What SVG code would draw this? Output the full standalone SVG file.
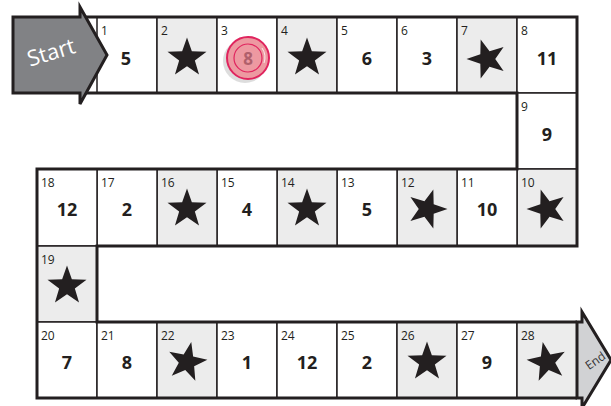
<svg xmlns="http://www.w3.org/2000/svg" width="611" height="406" viewBox="0 0 611 406">
<defs>
<path id="star" d="M0,-20.5 L4.85,-6.67 L19.5,-6.34 L7.85,2.55 L12.05,16.58 L0,8.25 L-12.05,16.58 L-7.85,2.55 L-19.5,-6.34 L-4.85,-6.67 Z" fill="#231f20"/>
</defs>
<style>
.cell{fill:#fff;stroke:#231f20;stroke-width:1.5}
.sh{fill:#ececec}
.lbl{font-family:"Open Sans","Noto Sans",sans-serif;font-size:12px;fill:#231f20}
.val{font-family:"Open Sans","Noto Sans",sans-serif;font-size:18px;font-weight:bold;fill:#231f20;text-anchor:middle}
.edge{fill:none;stroke:#231f20;stroke-width:3;stroke-linejoin:miter}
</style>
<rect width="611" height="406" fill="#fff"/>

<g id="cell1"><rect class="cell" x="97" y="17" width="60" height="76"/><text class="lbl" x="101" y="35">1</text><text class="val" x="126" y="65">5</text></g>
<g id="cell2"><rect class="cell sh" x="157" y="17" width="60" height="76"/><text class="lbl" x="161" y="35">2</text><use href="#star" transform="translate(187,58)"/></g>
<g id="cell3"><rect class="cell" x="217" y="17" width="60" height="76"/><text class="lbl" x="221" y="35">3</text></g>
<g id="cell4"><rect class="cell sh" x="277" y="17" width="60" height="76"/><text class="lbl" x="281" y="35">4</text><use href="#star" transform="translate(307,58)"/></g>
<g id="cell5"><rect class="cell" x="337" y="17" width="60" height="76"/><text class="lbl" x="341" y="35">5</text><text class="val" x="367" y="65">6</text></g>
<g id="cell6"><rect class="cell" x="397" y="17" width="60" height="76"/><text class="lbl" x="401" y="35">6</text><text class="val" x="427" y="65">3</text></g>
<g id="cell7"><rect class="cell sh" x="457" y="17" width="60" height="76"/><text class="lbl" x="461" y="35">7</text><use href="#star" transform="translate(487,59) rotate(-18)"/></g>
<g id="cell8"><rect class="cell" x="517" y="17" width="60" height="76"/><text class="lbl" x="521" y="35">8</text><text class="val" x="547" y="65">11</text></g>
<g id="cell9"><rect class="cell" x="517" y="93" width="60" height="76"/><text class="lbl" x="521" y="111">9</text><text class="val" x="547" y="141">9</text></g>

<g id="cell10"><rect class="cell sh" x="517" y="169" width="60" height="77"/><text class="lbl" x="521" y="187">10</text><use href="#star" transform="translate(547,209) rotate(-18)"/></g>
<g id="cell11"><rect class="cell" x="457" y="169" width="60" height="77"/><text class="lbl" x="461" y="187">11</text><text class="val" x="487" y="216">10</text></g>
<g id="cell12"><rect class="cell sh" x="397" y="169" width="60" height="77"/><text class="lbl" x="401" y="187">12</text><use href="#star" transform="translate(427,209) rotate(18)"/></g>
<g id="cell13"><rect class="cell" x="337" y="169" width="60" height="77"/><text class="lbl" x="341" y="187">13</text><text class="val" x="367" y="216">5</text></g>
<g id="cell14"><rect class="cell sh" x="277" y="169" width="60" height="77"/><text class="lbl" x="281" y="187">14</text><use href="#star" transform="translate(307,209)"/></g>
<g id="cell15"><rect class="cell" x="217" y="169" width="60" height="77"/><text class="lbl" x="221" y="187">15</text><text class="val" x="247" y="216">4</text></g>
<g id="cell16"><rect class="cell sh" x="157" y="169" width="60" height="77"/><text class="lbl" x="161" y="187">16</text><use href="#star" transform="translate(187,209)"/></g>
<g id="cell17"><rect class="cell" x="97" y="169" width="60" height="77"/><text class="lbl" x="101" y="187">17</text><text class="val" x="127" y="216">2</text></g>
<g id="cell18"><rect class="cell" x="37" y="169" width="60" height="77"/><text class="lbl" x="41" y="187">18</text><text class="val" x="67" y="216">12</text></g>
<g id="cell19"><rect class="cell sh" x="37" y="246" width="60" height="76"/><text class="lbl" x="41" y="264">19</text><use href="#star" transform="translate(67,286)"/></g>

<g id="cell20"><rect class="cell" x="37" y="322" width="60" height="76"/><text class="lbl" x="41" y="340">20</text><text class="val" x="67" y="369">7</text></g>
<g id="cell21"><rect class="cell" x="97" y="322" width="60" height="76"/><text class="lbl" x="101" y="340">21</text><text class="val" x="127" y="369">8</text></g>
<g id="cell22"><rect class="cell sh" x="157" y="322" width="60" height="76"/><text class="lbl" x="161" y="340">22</text><use href="#star" transform="translate(187,362) rotate(12)"/></g>
<g id="cell23"><rect class="cell" x="217" y="322" width="60" height="76"/><text class="lbl" x="221" y="340">23</text><text class="val" x="247" y="369">1</text></g>
<g id="cell24"><rect class="cell" x="277" y="322" width="60" height="76"/><text class="lbl" x="281" y="340">24</text><text class="val" x="307" y="369">12</text></g>
<g id="cell25"><rect class="cell" x="337" y="322" width="60" height="76"/><text class="lbl" x="341" y="340">25</text><text class="val" x="367" y="369">2</text></g>
<g id="cell26"><rect class="cell sh" x="397" y="322" width="60" height="76"/><text class="lbl" x="401" y="340">26</text><use href="#star" transform="translate(427,362)"/></g>
<g id="cell27"><rect class="cell" x="457" y="322" width="60" height="76"/><text class="lbl" x="461" y="340">27</text><text class="val" x="487" y="369">9</text></g>
<g id="cell28"><rect class="cell sh" x="517" y="322" width="60" height="76"/><text class="lbl" x="521" y="340">28</text><use href="#star" transform="translate(547,362) rotate(-12)"/></g>

<g id="connectors">
<path class="edge" d="M80,17 H577 V246 H97 V322 H577 M577,398 H37 V169 H517 V93 H80"/>
</g>

<g id="start">
<path d="M13,17 H80 V7 L107,55 L80,104 V93 H13 Z" fill="#818285" stroke="#231f20" stroke-width="3" stroke-linejoin="miter"/>
<text x="51" y="60" transform="rotate(-17 51 52)" font-family="Open Sans, Noto Sans, sans-serif" font-size="22" fill="#fff" text-anchor="middle">Start</text>
</g>

<g id="end">
<path d="M577,322 H582 V312 L611,360 L582,408 V398 H577 Z" fill="#d1d2d4" stroke="#231f20" stroke-width="3" stroke-linejoin="miter"/>
<text x="595" y="365" transform="rotate(-35 595 360)" font-family="Open Sans, Noto Sans, sans-serif" font-size="12" fill="#333" text-anchor="middle">End</text>
</g>

<g id="counter">
<circle cx="245" cy="61" r="22" fill="#cfcfcf" opacity="0.7"/>
<circle cx="248" cy="58" r="21" fill="#ed99a1" stroke="#e0245e" stroke-width="2"/>
<circle cx="248" cy="58" r="14" fill="none" stroke="#e0245e" stroke-width="1.2"/>
<path d="M262,48 A17,17 0 0 1 264,63" fill="none" stroke="#fff" stroke-width="1" opacity="0.8"/>
<text x="248" y="64.5" font-family="Open Sans, Noto Sans, sans-serif" font-size="17" font-weight="bold" fill="#b0606c" text-anchor="middle">8</text>
</g>
</svg>
